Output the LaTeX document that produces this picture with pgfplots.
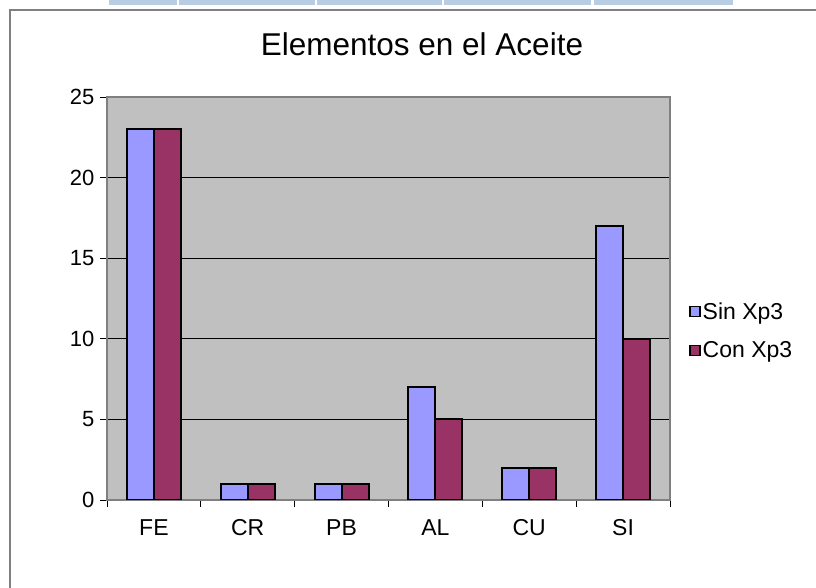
\documentclass[border=0pt]{standalone}
\usepackage{pgfplots}
\pgfplotsset{compat=1.18}
\usepackage{fontspec}
\setmainfont{Liberation Sans}
\definecolor{sinc}{HTML}{9999FF}
\definecolor{conc}{HTML}{993366}
\definecolor{plotbg}{HTML}{C0C0C0}
\definecolor{framec}{HTML}{808080}
\definecolor{tabblue}{HTML}{B8CCE4}
\begin{document}
\begin{tikzpicture}[x=1pt,y=1pt]
\path[use as bounding box, fill=white] (0,0) rectangle (816,588);
\fill[tabblue] (109,583) rectangle (177,588);
\fill[tabblue] (179,583) rectangle (315,588);
\fill[tabblue] (317,583) rectangle (442,588);
\fill[tabblue] (444,583) rectangle (591,588);
\fill[tabblue] (594,583) rectangle (733,588);
\draw[framec, line width=1.5pt] (10,0) -- (10,578) -- (816,578);
\begin{axis}[
  at={(107pt,88pt)}, anchor=south west,
  scale only axis, width=563pt, height=403pt,
  ymin=0, ymax=25, xmin=-0.5, xmax=5.5,
  ybar=0pt, bar width=27pt,
  axis background/.style={fill=plotbg},
  axis line style={framec, line width=1.2pt},
  xtick pos=bottom, ytick pos=left,
  ytick={0,5,10,15,20,25},
  xtick={0,1,2,3,4,5},
  xticklabels={FE,CR,PB,AL,CU,SI},
  minor xtick={-0.5,0.5,1.5,2.5,3.5,4.5,5.5},
  major x tick style={draw=none},
  minor x tick style={black, line width=0.8pt},
  major y tick style={black, line width=0.8pt},
  tick align=outside, major tick length=7pt, minor tick length=7pt,
  ymajorgrids, major grid style={black, line width=0.8pt},
  yticklabel style={font=\fontsize{22}{24}\selectfont, xshift=-2pt},
  xticklabel style={font=\fontsize{23}{26}\selectfont, yshift=-9pt},
  /pgf/number format/assume math mode=true,
  title={Elementos en el Aceite},
  title style={at={(0.5595,1.089)}, anchor=base, font=\fontsize{31.5}{36}\selectfont},
  legend style={at={(1.034,0.42)}, anchor=west, draw=none, fill=none,
    font=\fontsize{23}{26}\selectfont, row sep=17pt, inner sep=0pt,
    /tikz/every even column/.append style={column sep=5pt}},
  legend cell align=left,
  legend image code/.code={\draw[#1, line width=1.4pt] (1pt,-5pt) rectangle (11pt,5pt);},
]
\addplot[fill=sinc, draw=black, line width=2pt] coordinates {(0,23) (1,1) (2,1) (3,7) (4,2) (5,17)};
\addplot[fill=conc, draw=black, line width=2pt] coordinates {(0,23) (1,1) (2,1) (3,5) (4,2) (5,10)};
\legend{Sin Xp3, Con Xp3}
\end{axis}
\end{tikzpicture}
\end{document}
